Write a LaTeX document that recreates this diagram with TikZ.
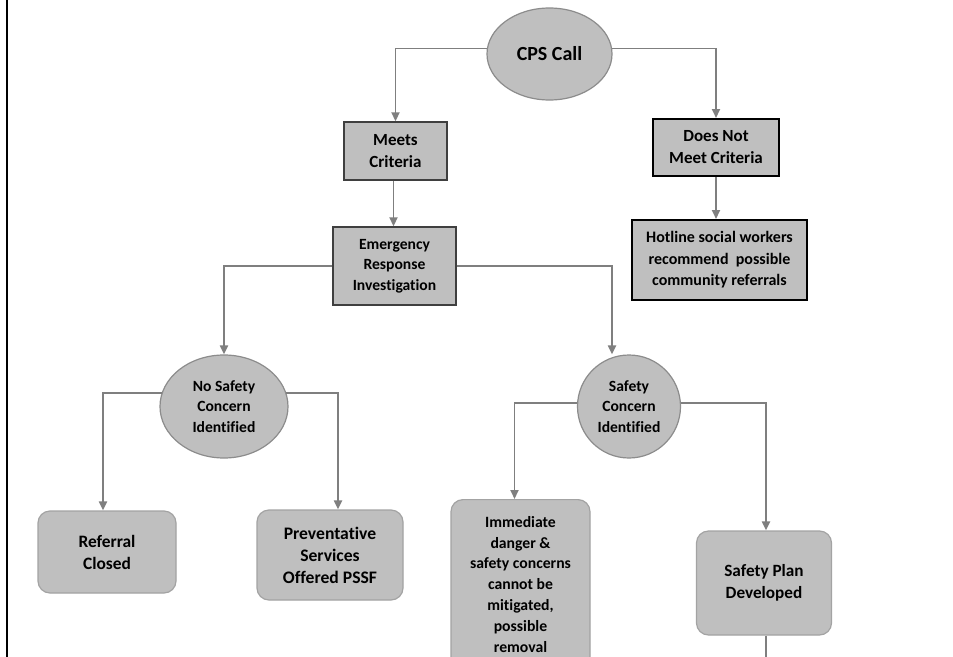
\documentclass[tikz,border=0pt]{standalone}
\usepackage{fontspec}
\setmainfont{Carlito}[Ligatures={NoCommon}]
\usetikzlibrary{shapes.geometric,arrows.meta}

\definecolor{boxfill}{HTML}{BFBFBF}
\definecolor{edgegray}{HTML}{8C8C8C}
\definecolor{arrowgray}{HTML}{7F7F7F}
\definecolor{darkedge}{HTML}{3F3F3F}

\tikzset{
  fs/.style 2 args={font=\bfseries\fontsize{#1}{#2}\selectfont, align=center, inner sep=0pt},
  oval/.style={ellipse, draw=edgegray, line width=1.2pt, fill=boxfill},
  sqbox/.style={rectangle, draw=darkedge, line width=1.4pt, fill=boxfill},
  blackbox/.style={rectangle, draw=black, line width=2pt, fill=boxfill},
  roundbox/.style={rectangle, rounded corners=12pt, draw=edgegray!80, line width=1.2pt, fill=boxfill},
  arr/.style={draw=arrowgray, line width=1.9pt, -{Triangle[length=9pt,width=8pt]}},
  link/.style={draw=arrowgray, line width=1.9pt}
}

\begin{document}
\begin{tikzpicture}[x=1pt,y=-1pt]
  \path[use as bounding box, fill=white] (0,0) rectangle (953,656);
  \clip (0,0) rectangle (953,656);

  % frame edge on the left
  \draw[black, line width=2pt] (7,-5) -- (7,661);

  % nodes
  \node[oval, minimum width=125pt, minimum height=92pt, fs={20}{24}] (cps) at (549.5,54) {CPS Call};
  \node[sqbox, minimum width=103pt, minimum height=58pt, fs={17}{22}] (meets) at (395.5,151) {Meets\\Criteria};
  \node[blackbox, minimum width=126pt, minimum height=57pt, fs={17}{22}] (notmeet) at (716,147.5) {Does Not\\Meet Criteria};
  \node[blackbox, minimum width=175pt, minimum height=80pt, fs={16}{21.5}] (hotline) at (719.5,260) {Hotline social workers\\recommend\ \ possible\\community referrals};
  \node[sqbox, minimum width=123pt, minimum height=78pt, fs={15.6}{20.5}] (erinv) at (394.5,266) {Emergency\\Response\\Investigation};
  \node[oval, minimum width=128pt, minimum height=103pt, fs={15.6}{20.5}] (nosafe) at (224,406.5) {No Safety\\Concern\\Identified};
  \node[oval, minimum width=103pt, minimum height=103pt, fs={15.6}{20.5}] (safe) at (629,406.5) {Safety\\Concern\\Identified};
  \node[roundbox, minimum width=138pt, minimum height=82pt, fs={17.4}{22}] (closed) at (107,552) {Referral\\Closed};
  \node[roundbox, minimum width=146pt, minimum height=90pt, fs={17.6}{22}] (prevent) at (330,555) {Preventative\\Services\\Offered PSSF};
  \node[roundbox, minimum width=139pt, minimum height=170pt, anchor=north] (danger) at (520.5,499) {};
  \node[fs={15.7}{20.8}, anchor=north] (dangertxt) at (520.5,516) {Immediate\\danger \&\\safety concerns\\cannot be\\mitigated,\\possible\\removal};
  \node[roundbox, minimum width=135pt, minimum height=104pt, fs={17.2}{22}] (plan) at (764,583) {Safety Plan\\Developed};
  \coordinate (planout) at (766,665);

  % connectors
  \draw[arr] (cps.175) -| (meets.north);
  \draw[arr] (cps.5) -| (notmeet.north);
  \draw[arr] ([xshift=-2pt]meets.south) -- ([xshift=-2pt]meets.south |- erinv.north);
  \draw[arr] (notmeet.south) -- (hotline.north -| notmeet.south);
  \draw[arr] (erinv.west) -| (nosafe.north);
  \draw[arr] (erinv.east) -| (safe.north -| 612,0);
  \draw[arr] (nosafe.168) -| ([xshift=-4pt]closed.north);
  \draw[arr] (nosafe.12) -| ([xshift=8pt]prevent.north);
  \draw[arr] (safe.176) -| ([xshift=-6pt]danger.north);
  \draw[arr] (safe.4) -| ([xshift=2pt]plan.north);
  \draw[link] ([xshift=2pt]plan.south) -- (planout);
\end{tikzpicture}
\end{document}
